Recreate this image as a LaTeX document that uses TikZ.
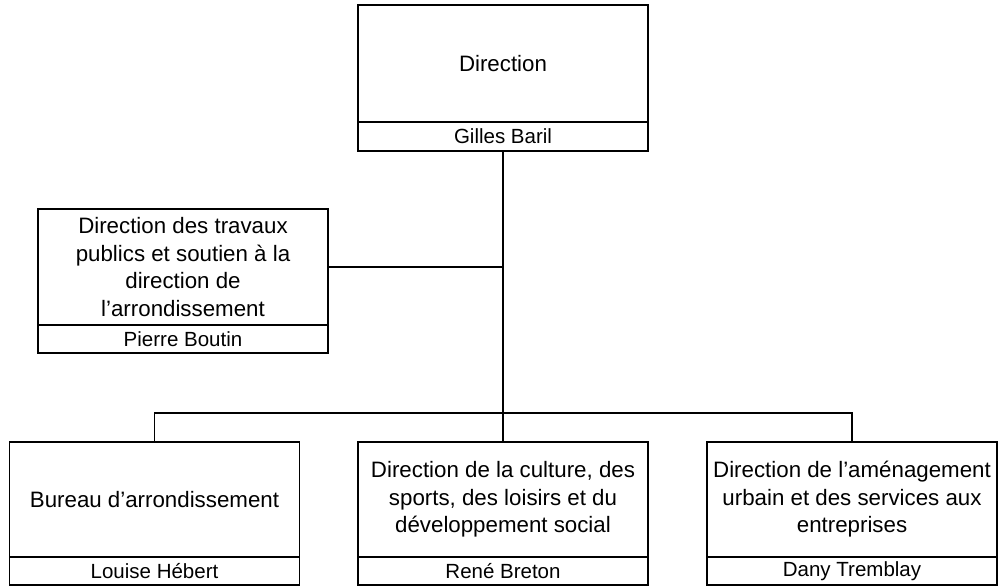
\documentclass[tikz,border=0pt]{standalone}
\usepackage{fontspec}
\setmainfont{Liberation Sans}
\begin{document}
\begin{tikzpicture}[x=1pt,y=-1pt,
  titlebox/.style={draw, line width=1.2pt, minimum width=290pt, inner sep=0pt, align=center,
    font=\fontsize{22.3}{27.5}\selectfont},
  namebox/.style={draw, line width=1.2pt, minimum width=290pt, inner sep=0pt, align=center,
    font=\fontsize{20.5}{24}\selectfont},
  trunk/.style={line width=2.2pt},
  link/.style={line width=1.4pt}]
\useasboundingbox (0,0) rectangle (1000,586);
% top
\node[titlebox, minimum height=117pt] (dir) at (503,63.5) {Direction};
\node[namebox, minimum height=29pt] (dirn) at (503,136.5) {Gilles Baril};
% left
\node[titlebox, minimum height=116pt] (tp) at (183,267) {Direction des travaux\\publics et soutien à la\\direction de\\l’arrondissement};
\node[namebox, minimum height=28pt] (tpn) at (183,339) {Pierre Boutin};
% bottom
\node[titlebox, minimum height=115pt] (b1) at (154.5,499.5) {Bureau d’arrondissement};
\node[namebox, minimum height=28pt] (b1n) at (154.5,571) {Louise Hébert};
\node[titlebox, minimum height=115pt] (b2) at (503,499.5) {Direction de la culture, des\\sports, des loisirs et du\\développement social};
\node[namebox, minimum height=28pt] (b2n) at (503,571) {René Breton};
\node[titlebox, minimum height=115pt] (b3) at (852,499.5) {Direction de l’aménagement\\urbain et des services aux\\entreprises};
\node[namebox, minimum height=28pt] (b3n) at (852,571) {Dany Tremblay};
% connectors
\coordinate (bus) at (503,413);
\draw[trunk] (dirn.south) -- (bus);
\draw[link] (tp.east) -- (tp.east -| dirn.south);
\draw[link] (b1.north) -- (b1.north |- bus) -- (b3.north |- bus) -- (b3.north);
\draw[link] (bus) -- (b2.north);
\end{tikzpicture}
\end{document}
